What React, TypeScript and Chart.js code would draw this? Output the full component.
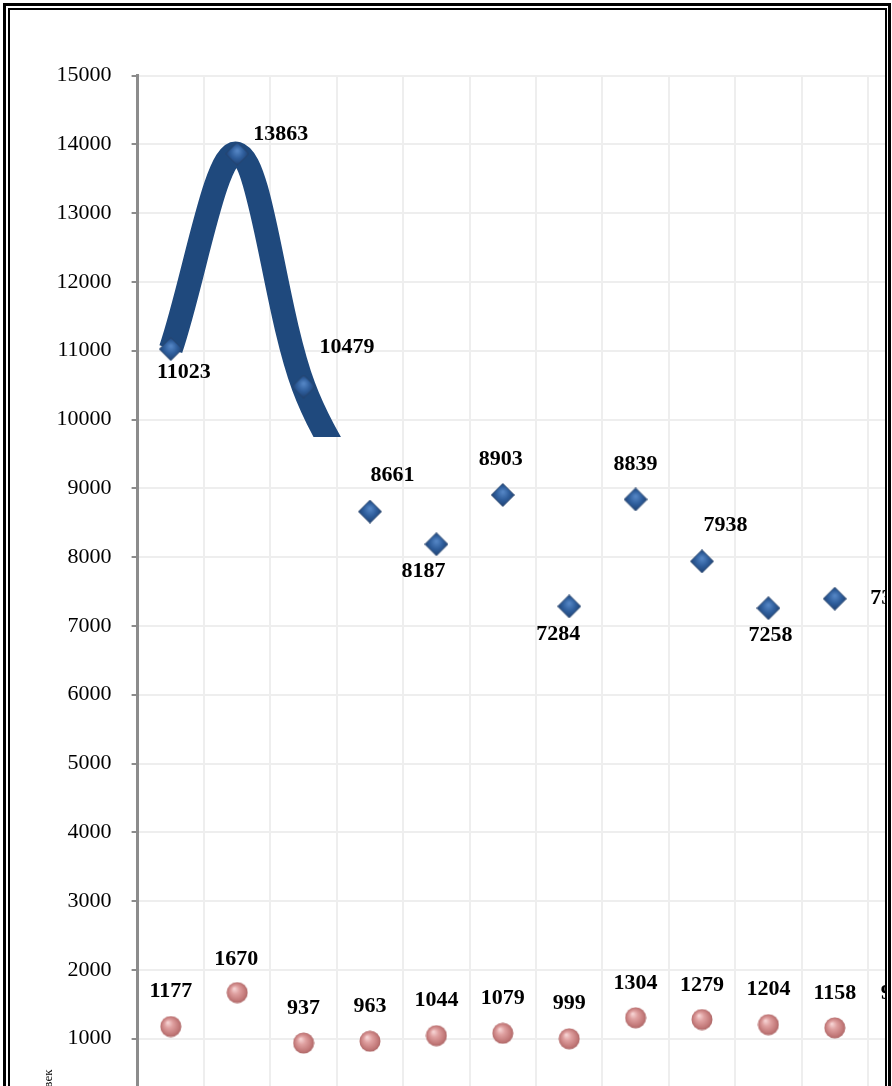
import React, { useEffect, useRef } from 'react';
import { Chart, registerables } from 'chart.js';

Chart.register(...registerables);

// ---- data ----
const categories = ['2008', '2009', '2010', '2011', '2012', '2013', '2014', '2015', '2016', '2017', '2018', '2019'];
const seriesBlue = [11023, 13863, 10479, 8661, 8187, 8903, 7284, 8839, 7938, 7258, 7395, null];
const seriesPink = [1177, 1670, 937, 963, 1044, 1079, 999, 1304, 1279, 1204, 1158, 960];
const seriesBlueName = 'Ряд1';
const seriesPinkName = 'Ряд2';
const yAxisTitle = 'Численность, человек';
const yMin = 0;
const yMax = 15000;
const yStep = 1000;
// the thick smoothed stroke covers the first points of the blue series and is cut off at this value
const curvePointCount = 4;
const curveCutValue = 9744;

// ---- label placement (style) ----
const blueLabelDx = [13, 43.5, 43.5, 22.5, -13, -2, -11, 0, 23.5, 2, 57.5, 0];
const blueLabelDy = [23, -19, -39, -36, 27, -35.5, 28, -35, -36, 27, 0, 0];
const pinkLabelDx = [0, -1, 0, 0, 0, 0, 0, 0, 0, 0, 0, -4];
const pinkLabelDy = [-35, -33, -35, -35, -35, -35, -35, -34.5, -34.5, -35, -34.5, -48];

const SERIF = '"Liberation Serif", "Times New Roman", serif';

function makeDiamond(): HTMLCanvasElement {
  const c = document.createElement('canvas');
  c.width = 24;
  c.height = 24;
  const g = c.getContext('2d')!;
  g.beginPath();
  g.moveTo(12, 0.5);
  g.lineTo(23.5, 12);
  g.lineTo(12, 23.5);
  g.lineTo(0.5, 12);
  g.closePath();
  const grad = g.createRadialGradient(12, 9, 1, 12, 12, 13);
  grad.addColorStop(0, '#5283c2');
  grad.addColorStop(0.45, '#2f5e9c');
  grad.addColorStop(1, '#1a3a68');
  g.fillStyle = grad;
  g.fill();
  g.lineWidth = 1;
  g.strokeStyle = 'rgba(40,70,110,0.9)';
  g.stroke();
  return c;
}

function makeSphere(): HTMLCanvasElement {
  const c = document.createElement('canvas');
  c.width = 22;
  c.height = 22;
  const g = c.getContext('2d')!;
  g.beginPath();
  g.arc(11, 11, 10.5, 0, Math.PI * 2);
  const grad = g.createRadialGradient(8, 7, 0.5, 11, 11, 11);
  grad.addColorStop(0, '#f6d3d3');
  grad.addColorStop(0.35, '#dfa0a0');
  grad.addColorStop(0.8, '#c27878');
  grad.addColorStop(1, '#a96464');
  g.fillStyle = grad;
  g.fill();
  return c;
}

const curveClipPlugin = {
  id: 'curveClip',
  beforeDatasetDraw(chart: any, args: any) {
    if (args.index !== 0) return;
    const { ctx, chartArea, scales } = chart;
    const yCut = scales.y.getPixelForValue(curveCutValue);
    ctx.save();
    ctx.beginPath();
    ctx.rect(chartArea.left, chartArea.top - 20, chartArea.right - chartArea.left, yCut - chartArea.top + 20);
    ctx.clip();
  },
  afterDatasetDraw(chart: any, args: any) {
    if (args.index !== 0) return;
    chart.ctx.restore();
  },
};

const valueLabelPlugin = {
  id: 'valueLabels',
  afterDatasetsDraw(chart: any) {
    const ctx = chart.ctx;
    ctx.save();
    ctx.font = `bold 22px ${SERIF}`;
    ctx.fillStyle = '#000';
    ctx.textAlign = 'center';
    ctx.textBaseline = 'middle';
    const specs = [
      { ds: 1, dx: blueLabelDx, dy: blueLabelDy },
      { ds: 2, dx: pinkLabelDx, dy: pinkLabelDy },
    ];
    for (const s of specs) {
      const meta = chart.getDatasetMeta(s.ds);
      const data = chart.data.datasets[s.ds].data;
      meta.data.forEach((pt: any, i: number) => {
        const v = data[i];
        if (v === null || v === undefined) return;
        ctx.fillText(String(v), pt.x + s.dx[i], pt.y + s.dy[i]);
      });
    }
    ctx.restore();
  },
};

const axisTitlePlugin = {
  id: 'axisTitle',
  afterDraw(chart: any) {
    const { ctx, chartArea } = chart;
    ctx.save();
    ctx.translate(chartArea.left - 86, chartArea.bottom - 38);
    ctx.rotate(-Math.PI / 2);
    ctx.font = `13px ${SERIF}`;
    ctx.fillStyle = '#000';
    ctx.textAlign = 'right';
    ctx.textBaseline = 'alphabetic';
    ctx.fillText(yAxisTitle, 0, 0);
    ctx.restore();
  },
};

export default function App() {
  const ref = useRef<HTMLCanvasElement>(null);

  useEffect(() => {
    const canvas = ref.current;
    if (!canvas) return;
    const diamond = makeDiamond();
    const sphere = makeSphere();
    Chart.defaults.font.family = SERIF;

    const chart = new Chart(canvas, {
      type: 'line',
      data: {
        labels: categories,
        datasets: [
          {
            label: seriesBlueName + ' (кривая)',
            data: seriesBlue.slice(0, curvePointCount),
            borderColor: '#1F497D',
            backgroundColor: '#1F497D',
            borderWidth: 24,
            pointRadius: 0,
            tension: 0.35,
            fill: false,
            order: 3,
          },
          {
            label: seriesBlueName,
            data: seriesBlue,
            showLine: false,
            pointStyle: diamond as any,
            pointRadius: 12,
            order: 1,
          },
          {
            label: seriesPinkName,
            data: seriesPink,
            showLine: false,
            pointStyle: sphere as any,
            pointRadius: 11,
            order: 2,
          },
        ],
      } as any,
      options: {
        responsive: false,
        maintainAspectRatio: false,
        animation: false,
        events: [],
        layout: { padding: { left: 0, top: 75.5, right: 25.6, bottom: 22.5 } },
        plugins: {
          legend: { display: false },
          tooltip: { enabled: false },
          title: { display: false },
        },
        scales: {
          x: {
            type: 'category',
            offset: true,
            grid: { offset: true, color: '#eeeeee', lineWidth: 2, drawTicks: false },
            border: { display: false },
            ticks: { font: { family: SERIF, size: 18 }, color: '#000' },
            afterFit: (scale: any) => {
              scale.height = 40;
            },
          },
          y: {
            min: yMin,
            max: yMax,
            grid: {
              color: '#eeeeee',
              lineWidth: 2,
              tickColor: '#8c8c8c',
              tickLength: 6,
              tickWidth: 2,
            },
            border: { display: true, color: '#8c8c8c', width: 3 },
            ticks: {
              stepSize: yStep,
              padding: 20,
              font: { family: SERIF, size: 22 },
              color: '#000',
              callback: (value: any) => String(value),
            },
            afterFit: (scale: any) => {
              scale.width = 137.6;
            },
          },
        },
      } as any,
      plugins: [curveClipPlugin, valueLabelPlugin, axisTitlePlugin],
    });
    return () => chart.destroy();
  }, []);

  return (
    <div
      style={{
        position: 'absolute',
        left: 0,
        top: 0,
        width: 892,
        height: 1086,
        overflow: 'hidden',
        background: '#fff',
      }}
    >
      <div
        style={{
          position: 'absolute',
          left: 3,
          top: 3,
          width: 888,
          height: 1300,
          border: '3px solid #000',
          boxSizing: 'border-box',
        }}
      />
      <div
        style={{
          position: 'absolute',
          left: 8,
          top: 8,
          width: 879,
          height: 1300,
          border: '2px solid #000',
          boxSizing: 'border-box',
        }}
      />
      <div
        style={{
          position: 'absolute',
          left: 10,
          top: 10,
          width: 875,
          height: 1290,
          overflow: 'hidden',
        }}
      >
        <canvas
          ref={ref}
          width={960}
          height={1170}
          style={{ position: 'absolute', left: -10, top: -10, display: 'block' }}
        />
      </div>
    </div>
  );
}
